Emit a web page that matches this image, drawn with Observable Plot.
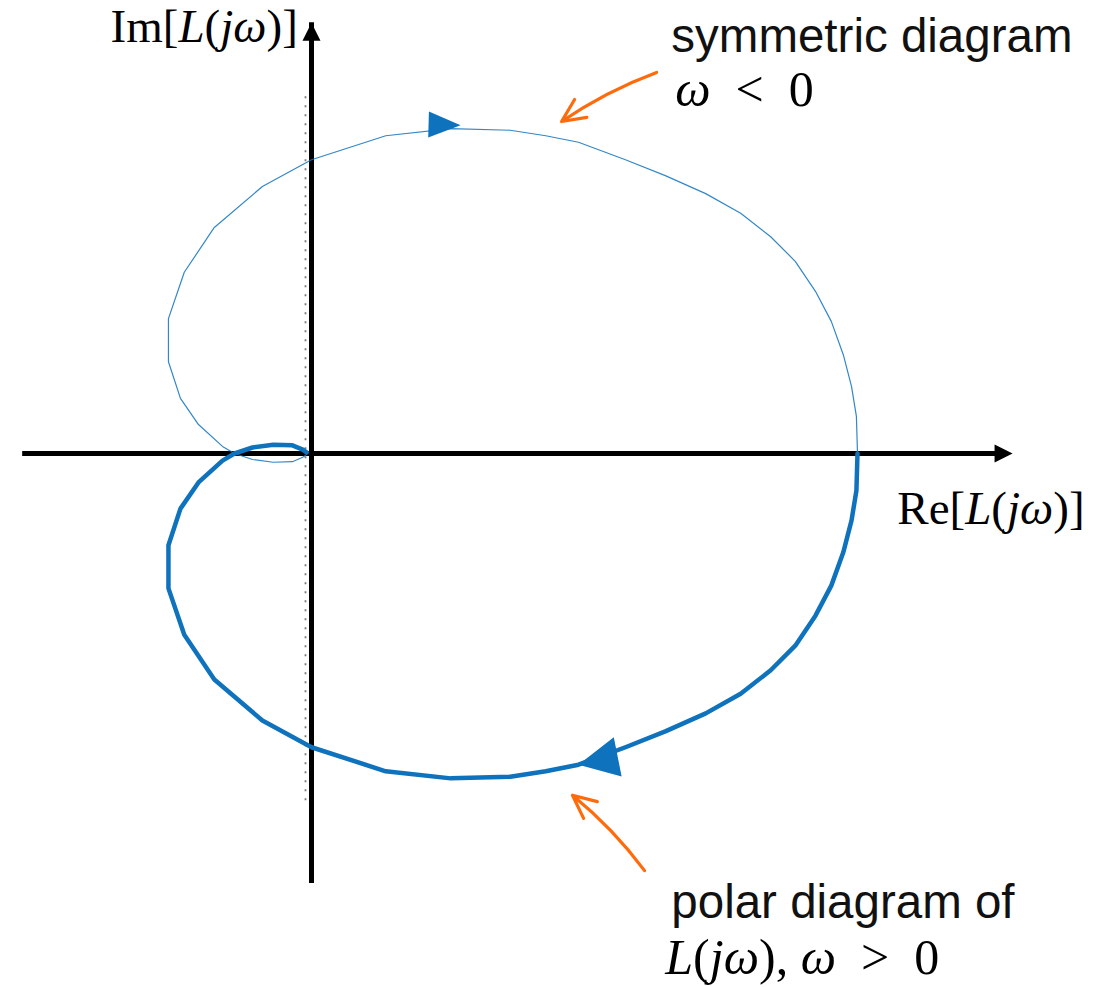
<!DOCTYPE html>
<html>
<head>
<meta charset="utf-8">
<script src="https://cdn.jsdelivr.net/npm/d3@7"></script>
<script src="https://cdn.jsdelivr.net/npm/@observablehq/plot@0.6"></script>
<style>
  html, body { margin: 0; padding: 0; background: #fff; }
  #chart svg { display: block; }
</style>
</head>
<body>
<div id="chart"></div>
<script>
// Polar diagram of L(jω) sampled for ω ≥ 0: starts on the real axis at ω = 0
// and winds into the origin as ω → ∞. Units are normalised so that L(0) = 1.
const re = [1.000, 0.998, 0.989, 0.974, 0.952, 0.923, 0.886, 0.841, 0.786, 0.722,
            0.648, 0.575, 0.489, 0.429, 0.364, 0.255, 0.136, 0.000, -0.090, -0.178,
            -0.233, -0.262, -0.262, -0.240, -0.207, -0.163, -0.141, -0.108, -0.070, -0.035,
            -0.016, -0.009];
const im = [0.000, -0.068, -0.123, -0.181, -0.242, -0.297, -0.352, -0.397, -0.440, -0.476,
            -0.509, -0.538, -0.570, -0.582, -0.592, -0.595, -0.582, -0.538, -0.489, -0.414,
            -0.332, -0.247, -0.168, -0.101, -0.053, -0.013, 0.000, 0.011, 0.016, 0.015,
            0.007, 0.002];

// Extent of the drawn coordinate axes (arrow tips)
const realAxis = [-0.529, 1.284];
const imagAxis = [-0.760, 0.789];

// Vertical dotted guide through the end point of the locus
const guideRe = [-0.011];
const guideIm = [-0.636, 0.656];

// Direction arrows on the two branches
const arrowBranch = ["neg", "pos"];
const arrowRe = [0.273, 0.489];
const arrowIm = [0.601, -0.570];

// Orange callout arrows (tail → head)
const calloutFrom = [[0.632, 0.698], [0.610, -0.764]];
const calloutTo = [[0.458, 0.608], [0.478, -0.626]];

// Text labels (left edge, baseline)
const textLabels = ["symmetric diagram", "polar diagram of"];
const textRe = [0.659, 0.659];
const textIm = [0.736, -0.850];

const axisTitles = ["Im[L(jω)]", "Re[L(jω)]"];
const axisTitleRe = [-0.368, 1.073];
const axisTitleIm = [0.753, -0.130];

const branchTitles = ["ω\u2002<\u20020", "L(jω),\u2005ω\u2002>\u20020"];
const branchTitleRe = [0.666, 0.648];
const branchTitleIm = [0.636, -0.954];

// Italic runs for the mathematical labels
const italicRuns = {
  "Im[L(jω)]": [["Im[", 0], ["L", 1], ["(", 0], ["jω", 1], [")]", 0]],
  "Re[L(jω)]": [["Re[", 0], ["L", 1], ["(", 0], ["jω", 1], [")]", 0]],
  "ω\u2002<\u20020": [["ω", 1], ["\u2002<\u20020", 0]],
  "L(jω),\u2005ω\u2002>\u20020": [["L", 1], ["(", 0], ["jω", 1], ["),\u2005", 0], ["ω", 1], ["\u2002>\u20020", 0]]
};

// ---- derived tables ----
const pos = re.map((r, i) => ({re: r, im: im[i]}));
const neg = pos.map(d => ({re: d.re, im: -d.im})).reverse(); // complex conjugate, traversed ω: −∞ → 0
const branches = {pos, neg};

function heading(pts, p) {
  let best = 0, bestD = Infinity;
  for (let i = 0; i < pts.length - 1; ++i) {
    const mx = (pts[i].re + pts[i + 1].re) / 2, my = (pts[i].im + pts[i + 1].im) / 2;
    const d = (mx - p.re) ** 2 + (my - p.im) ** 2;
    if (d < bestD) { bestD = d; best = i; }
  }
  const a = pts[best], b = pts[best + 1];
  return Math.atan2(-(b.im - a.im), b.re - a.re) * 180 / Math.PI;
}

const arrows = arrowBranch.map((b, i) => {
  const p = {re: arrowRe[i], im: arrowIm[i], branch: b};
  p.angle = heading(branches[b], p);
  return p;
});

const callouts = calloutFrom.map((f, i) => ({x1: f[0], y1: f[1], x2: calloutTo[i][0], y2: calloutTo[i][1]}));
const texts = textLabels.map((t, i) => ({text: t, re: textRe[i], im: textIm[i]}));
const titles = axisTitles.map((t, i) => ({text: t, re: axisTitleRe[i], im: axisTitleIm[i]}));
const mathTitles = branchTitles.map((t, i) => ({text: t, re: branchTitleRe[i], im: branchTitleIm[i]}));

// filled triangular arrowhead, tip at the anchor, pointing along +x
const head = (len, hw) => ({
  draw(ctx) { ctx.moveTo(0, 0); ctx.lineTo(-len, -hw); ctx.lineTo(-len, hw); ctx.closePath(); }
});

const W = 1094, H = 987;
const k = 546; // pixels per unit on both axes
const ox = 311, oy = 453;
const blue = "#0f72bd";
const orange = "#ff6a0a";
const serif = "'Liberation Serif', 'DejaVu Serif', serif";
const sans = "'Liberation Sans', Arial, Helvetica, sans-serif";

const chart = Plot.plot({
  width: W,
  height: H,
  margin: 0,
  style: {background: "#fff", overflow: "visible"},
  x: {domain: [-ox / k, (W - ox) / k], axis: null},
  y: {domain: [(oy - H) / k, oy / k], axis: null},
  marks: [
    Plot.ruleX(guideRe, {y1: guideIm[0], y2: guideIm[1], stroke: "#7a7a7a", strokeWidth: 1.8, strokeDasharray: "2,7"}),
    Plot.ruleY([0], {x1: realAxis[0], x2: realAxis[1], insetRight: 15, stroke: "#000", strokeWidth: 5}),
    Plot.ruleX([0], {y1: imagAxis[0], y2: imagAxis[1], insetTop: 15, stroke: "#000", strokeWidth: 5}),
    Plot.dot([{re: realAxis[1], im: 0}], {x: "re", y: "im", symbol: head(18, 9), fill: "#000", stroke: "none"}),
    Plot.dot([{re: 0, im: imagAxis[1]}], {x: "re", y: "im", symbol: head(18, 9), rotate: -90, fill: "#000", stroke: "none"}),
    Plot.line(neg, {x: "re", y: "im", stroke: blue, strokeWidth: 1.2, strokeOpacity: 0.85}),
    Plot.line(pos, {x: "re", y: "im", stroke: blue, strokeWidth: 4.5, strokeLinejoin: "round"}),
    Plot.dot(arrows.filter(d => d.branch === "neg"), {x: "re", y: "im", rotate: "angle", symbol: head(32, 13), fill: blue, stroke: "none"}),
    Plot.dot(arrows.filter(d => d.branch === "pos"), {x: "re", y: "im", rotate: "angle", symbol: head(40, 20), fill: blue, stroke: "none"}),
    Plot.arrow(callouts, {x1: "x1", y1: "y1", x2: "x2", y2: "y2", bend: -7, stroke: orange, strokeWidth: 3.2, headLength: 12, headAngle: 50, insetStart: 0, insetEnd: 0}),
    Plot.text(texts, {x: "re", y: "im", text: "text", textAnchor: "start", lineAnchor: "bottom", fontSize: 47.5, fontFamily: sans, fill: "#111"}),
    Plot.text(titles, {x: "re", y: "im", text: "text", textAnchor: "start", lineAnchor: "bottom", fontSize: 47, fontFamily: serif, fill: "#000"}),
    Plot.text(mathTitles, {x: "re", y: "im", text: "text", textAnchor: "start", lineAnchor: "bottom", fontSize: 50, fontFamily: serif, fill: "#000"})
  ]
});

// set italic runs inside the math labels
chart.querySelectorAll("text").forEach(t => {
  const runs = italicRuns[t.textContent];
  if (!runs) return;
  t.textContent = "";
  for (const [s, it] of runs) {
    const ts = document.createElementNS("http://www.w3.org/2000/svg", "tspan");
    ts.textContent = s;
    if (it) ts.setAttribute("font-style", "italic");
    t.appendChild(ts);
  }
});

document.getElementById("chart").appendChild(chart);
</script>
</body>
</html>
